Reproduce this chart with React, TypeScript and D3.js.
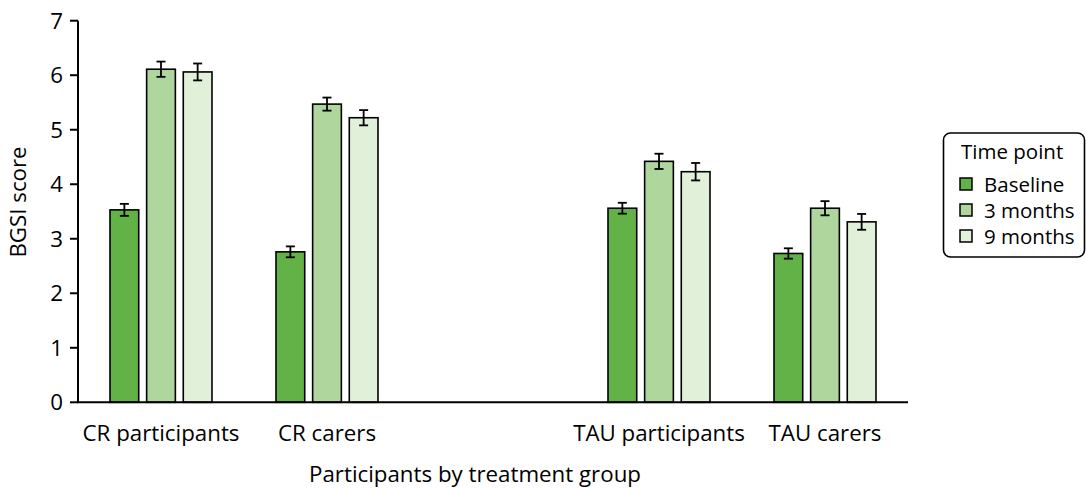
import React from 'react';
import * as d3 from 'd3';

const categories = ['CR participants', 'CR carers', 'TAU participants', 'TAU carers'];
const slots = ['CR participants', 'CR carers', '__gap__', 'TAU participants', 'TAU carers'];
const seriesNames = ['Baseline', '3 months', '9 months'];
const seriesColors = ['#63b247', '#afd69d', '#e1f0d8'];

const baseline = [3.53, 2.76, 3.56, 2.73];
const baselineErr = [0.11, 0.1, 0.1, 0.095];
const threeMonths = [6.11, 5.47, 4.42, 3.56];
const threeMonthsErr = [0.14, 0.12, 0.14, 0.13];
const nineMonths = [6.06, 5.22, 4.23, 3.31];
const nineMonthsErr = [0.155, 0.14, 0.16, 0.145];

const yTicks = [0, 1, 2, 3, 4, 5, 6, 7];

const W = 1086;
const H = 488;
const FONT = '"Open Sans", sans-serif';
const FS = 22.3;
const LEG_FS = 20.5;

export default function App() {
  const values = [baseline, threeMonths, nineMonths];
  const errors = [baselineErr, threeMonthsErr, nineMonthsErr];

  const x = d3.scaleBand<string>().domain(slots).range([78, 908]).padding(0);
  const xs = d3
    .scaleBand<string>()
    .domain(seriesNames)
    .range([32, x.bandwidth() - 32])
    .paddingInner(8 / 37)
    .paddingOuter(0);
  const y = d3.scaleLinear().domain([0, 7]).range([402.3, 20.7]);

  const capW = 4.5;

  return (
    <svg
      width={W}
      height={H}
      style={{ position: 'absolute', left: 0, top: 0, background: '#fff' }}
      fontFamily={FONT}
    >
      {/* bars */}
      {categories.map((cat, ci) =>
        seriesNames.map((s, si) => {
          const bx = (x(cat) ?? 0) + (xs(s) ?? 0);
          const v = values[si][ci];
          const e = errors[si][ci];
          const cx = bx + xs.bandwidth() / 2;
          return (
            <g key={cat + s}>
              <rect
                x={bx}
                y={y(v)}
                width={xs.bandwidth()}
                height={y(0) - y(v)}
                fill={seriesColors[si]}
                stroke="#000"
                strokeWidth={1.6}
              />
              <line x1={cx} x2={cx} y1={y(v + e)} y2={y(v - e)} stroke="#000" strokeWidth={1.8} />
              <line x1={cx - capW} x2={cx + capW} y1={y(v + e)} y2={y(v + e)} stroke="#000" strokeWidth={1.8} />
              <line x1={cx - capW} x2={cx + capW} y1={y(v - e)} y2={y(v - e)} stroke="#000" strokeWidth={1.8} />
            </g>
          );
        })
      )}

      {/* axes */}
      <line x1={78} x2={78} y1={y(7)} y2={y(0)} stroke="#000" strokeWidth={2} />
      <line x1={77} x2={908} y1={y(0)} y2={y(0)} stroke="#000" strokeWidth={2} />
      {yTicks.map((t) => (
        <g key={t}>
          <line x1={70} x2={78} y1={y(t)} y2={y(t)} stroke="#000" strokeWidth={2} />
          <text x={63} y={y(t)} dy="0.36em" textAnchor="end" fontSize={FS} fill="#000">
            {t}
          </text>
        </g>
      ))}
      {categories.map((cat) => (
        <text
          key={cat}
          x={(x(cat) ?? 0) + x.bandwidth() / 2}
          y={441}
          textAnchor="middle"
          fontSize={FS}
          fill="#000"
        >
          {cat}
        </text>
      ))}

      <text x={475} y={482} textAnchor="middle" fontSize={FS} fill="#000">
        Participants by treatment group
      </text>
      <text
        transform={`translate(26,202) rotate(-90)`}
        textAnchor="middle"
        fontSize={FS}
        fill="#000"
      >
        BGSI score
      </text>

      {/* legend */}
      <rect x={943.5} y={133} width={141} height={124} rx={7} fill="#fff" stroke="#000" strokeWidth={1.6} />
      <text x={961} y={159} fontSize={LEG_FS} fill="#000">
        Time point
      </text>
      {seriesNames.map((s, i) => (
        <g key={s} transform={`translate(960,${178 + i * 26})`}>
          <rect x={0} y={0} width={12} height={12} fill={seriesColors[i]} stroke="#000" strokeWidth={1.5} />
          <text x={24} y={13.5} fontSize={LEG_FS} fill="#000">
            {s}
          </text>
        </g>
      ))}
    </svg>
  );
}
